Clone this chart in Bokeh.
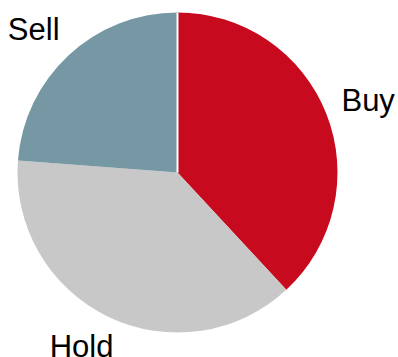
import math
from bokeh.plotting import figure
from bokeh.models import Range1d, ColumnDataSource
from bokeh.core.properties import value
from bokeh.embed import file_html
from bokeh.resources import INLINE

categories = ["Buy", "Hold", "Sell"]
counts = [8, 8, 5]
colors = ["#C80A1F", "#C8C8C8", "#7698A4"]

W, H = 398, 357
FS = 31  # label font size, px
# approximate advance widths (em) of Liberation Sans glyphs used by labels
ADV = {"B": 0.667, "u": 0.556, "y": 0.5, "H": 0.722, "o": 0.556, "l": 0.222,
       "d": 0.556, "S": 0.667, "e": 0.556}

p = figure(width=W, height=H, output_backend="svg", toolbar_location=None,
           x_range=Range1d(0, W), y_range=Range1d(0, H),
           min_border=0, outline_line_color=None)
p.axis.visible = False
p.grid.visible = False
p.background_fill_color = "white"
p.border_fill_color = "white"

cx, cy, r = 177, H - 172, 160
total = sum(counts)
starts, ends, lx, ly = [], [], [], []
acc = 0.0
for cat, c in zip(categories, counts):
    a0 = math.pi / 2 - 2 * math.pi * acc / total
    a1 = math.pi / 2 - 2 * math.pi * (acc + c) / total
    starts.append(a0)
    ends.append(a1)
    mid = (a0 + a1) / 2
    dx, dy = math.cos(mid), math.sin(mid)
    w = sum(ADV.get(ch, 0.55) for ch in cat) * FS
    h = 0.716 * FS
    ax, ay = cx + 1.1 * r * dx, cy + 1.1 * r * dy
    bx, by = ax + dx * w / 2 * 1.2 - 3, ay + dy * h / 2 * 1.65  # label box centre
    lx.append(bx)
    ly.append(by - h / 2 + 12)  # baseline, corrected for SVG text placement
    acc += c

src = ColumnDataSource(dict(cat=categories, start=starts, end=ends, color=colors, lx=lx, ly=ly))
p.wedge(x=cx, y=cy, radius=r, start_angle="start", end_angle="end", direction="clock",
        fill_color="color", line_color=None, source=src)
p.segment(x0=[cx], y0=[cy], x1=[cx + r * math.cos(starts[0])], y1=[cy + r * math.sin(starts[0])],
          line_color="white", line_width=2)
p.text(x="lx", y="ly", text="cat", source=src, text_align="center", text_baseline="alphabetic",
       text_font=value("Liberation Sans"), text_font_size=f"{FS}px", text_color="black")

open("out.html", "w").write(file_html(p, INLINE))
